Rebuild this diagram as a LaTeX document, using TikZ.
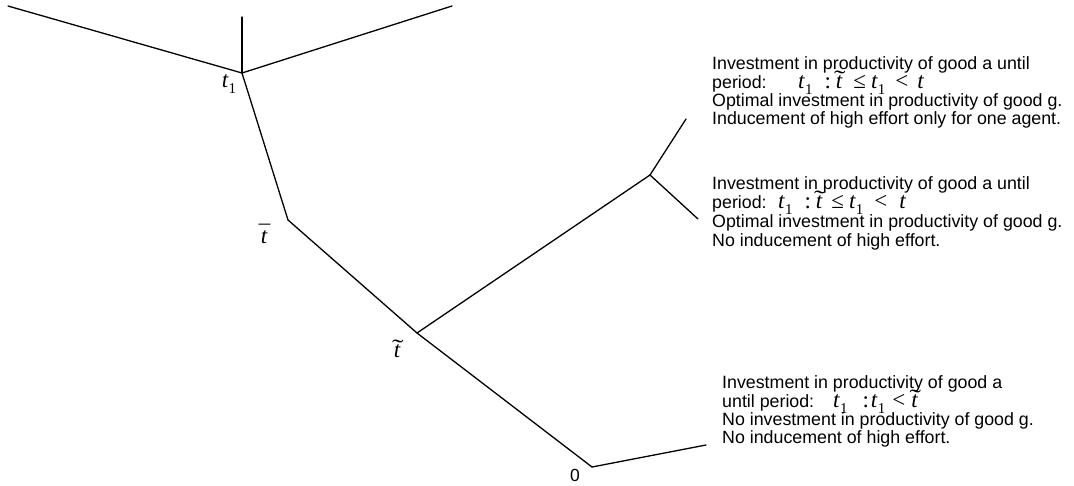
\documentclass[tikz,border=0pt]{standalone}
\usepackage{fontspec}
\setmainfont{Liberation Sans}
\newfontfamily\tms{Liberation Serif}
\newcommand\vT{{\tms\itshape t}}
\newcommand\vSub[1]{\raisebox{-0.28em}{\fontsize{15}{15}\selectfont\tms #1}}
\newcommand\vTone{\vT\kern0.5pt\vSub{1}}
\newcommand\vTtil{\ooalign{\vT\cr\hidewidth\kern1.5pt\raisebox{0.08em}{\scalebox{1.5}[1]{\tms\char"02DC}}\hidewidth\cr}}
\newcommand\vTbar{\ooalign{\vT\cr\hidewidth\kern1pt\raisebox{0.08em}{\tms\char"00AF}\hidewidth\cr}}
\newcommand\vLe{{\tms\char"2264}}
\newcommand\vLt{{\tms <}}
\newcommand\vCol{{\tms :}}
\begin{document}
\begin{tikzpicture}[x=1pt,y=-1pt,
  edge/.style={line width=1.3pt,line cap=round,line join=round},
  txt/.style={anchor=base west,inner sep=0pt,font=\fontsize{17.8}{18.7}\selectfont},
  mth/.style={anchor=base west,inner sep=0pt,font=\fontsize{23}{23}\selectfont},
  lbl/.style={inner sep=0pt,font=\fontsize{23}{23}\selectfont}]
\useasboundingbox (0,0) rectangle (1074,485);
% tree points
\coordinate (lt) at (8,6);
\coordinate (up) at (242,17);
\coordinate (rt) at (452,6);
\coordinate (t1) at (242,73);
\coordinate (tb) at (288,220);
\coordinate (tt) at (417,333);
\coordinate (br) at (650,175);
\coordinate (bu) at (686,119);
\coordinate (bd) at (698,219);
\coordinate (z) at (592,467);
\coordinate (ze) at (706,445);
% edges
\draw[edge] (lt) -- (t1);
\draw[edge] (up) -- (t1);
\draw[edge] (rt) -- (t1);
\draw[edge] (t1) -- (tb);
\draw[edge] (tb) -- (tt);
\draw[edge] (tt) -- (br);
\draw[edge] (br) -- (bu);
\draw[edge] (br) -- (bd);
\draw[edge] (tt) -- (z);
\draw[edge] (z) -- (ze);
% node labels
\node[lbl] (Lt1) at (229,84) {\vTone};
\node[lbl] (Ltb) at (264,237) {\vTbar};
\node[lbl] (Ltt) at (397,351) {\vTtil};
\node[inner sep=0pt,font=\fontsize{17.5}{18}\selectfont] (Lz) at (575,475) {0};
% block 1
\node[txt] (a1) at (712,69) {Investment in productivity of good a until};
\node[txt] (a2) at (712,88) {period:};
\node[mth] (a2m) at (798,88) {\vTone\hspace{12pt}\vCol\hspace{5pt}\vTtil\hspace{11pt}\vLe\hspace{5pt}\vTone\hspace{10pt}\vLt\hspace{9pt}\vT};
\node[txt] (a3) at (712,106) {Optimal investment in productivity of good g.};
\node[txt] (a4) at (712,124) {Inducement of high effort only for one agent.};
% block 2
\node[txt] (b1) at (712,189) {Investment in productivity of good a until};
\node[txt] (b2) at (712,208) {period:};
\node[mth] (b2m) at (778,208) {\vTone\hspace{12pt}\vCol\hspace{5pt}\vTtil\hspace{9pt}\vLe\hspace{5pt}\vTone\hspace{11pt}\vLt\hspace{12pt}\vT};
\node[txt] (b3) at (712,227) {Optimal investment in productivity of good g.};
\node[txt] (b4) at (712,246) {No inducement of high effort.};
% block 3
\node[txt] (c1) at (722,388) {Investment in productivity of good a};
\node[txt] (c2) at (722,407) {until period:};
\node[mth] (c2m) at (833,407) {\vTone\hspace{15pt}\vCol\hspace{2pt}\vTone\hspace{7pt}\vLt\hspace{6pt}\vTtil};
\node[txt] (c3) at (722,425) {No investment in productivity of good g.};
\node[txt] (c4) at (722,443) {No inducement of high effort.};
\end{tikzpicture}
\end{document}
